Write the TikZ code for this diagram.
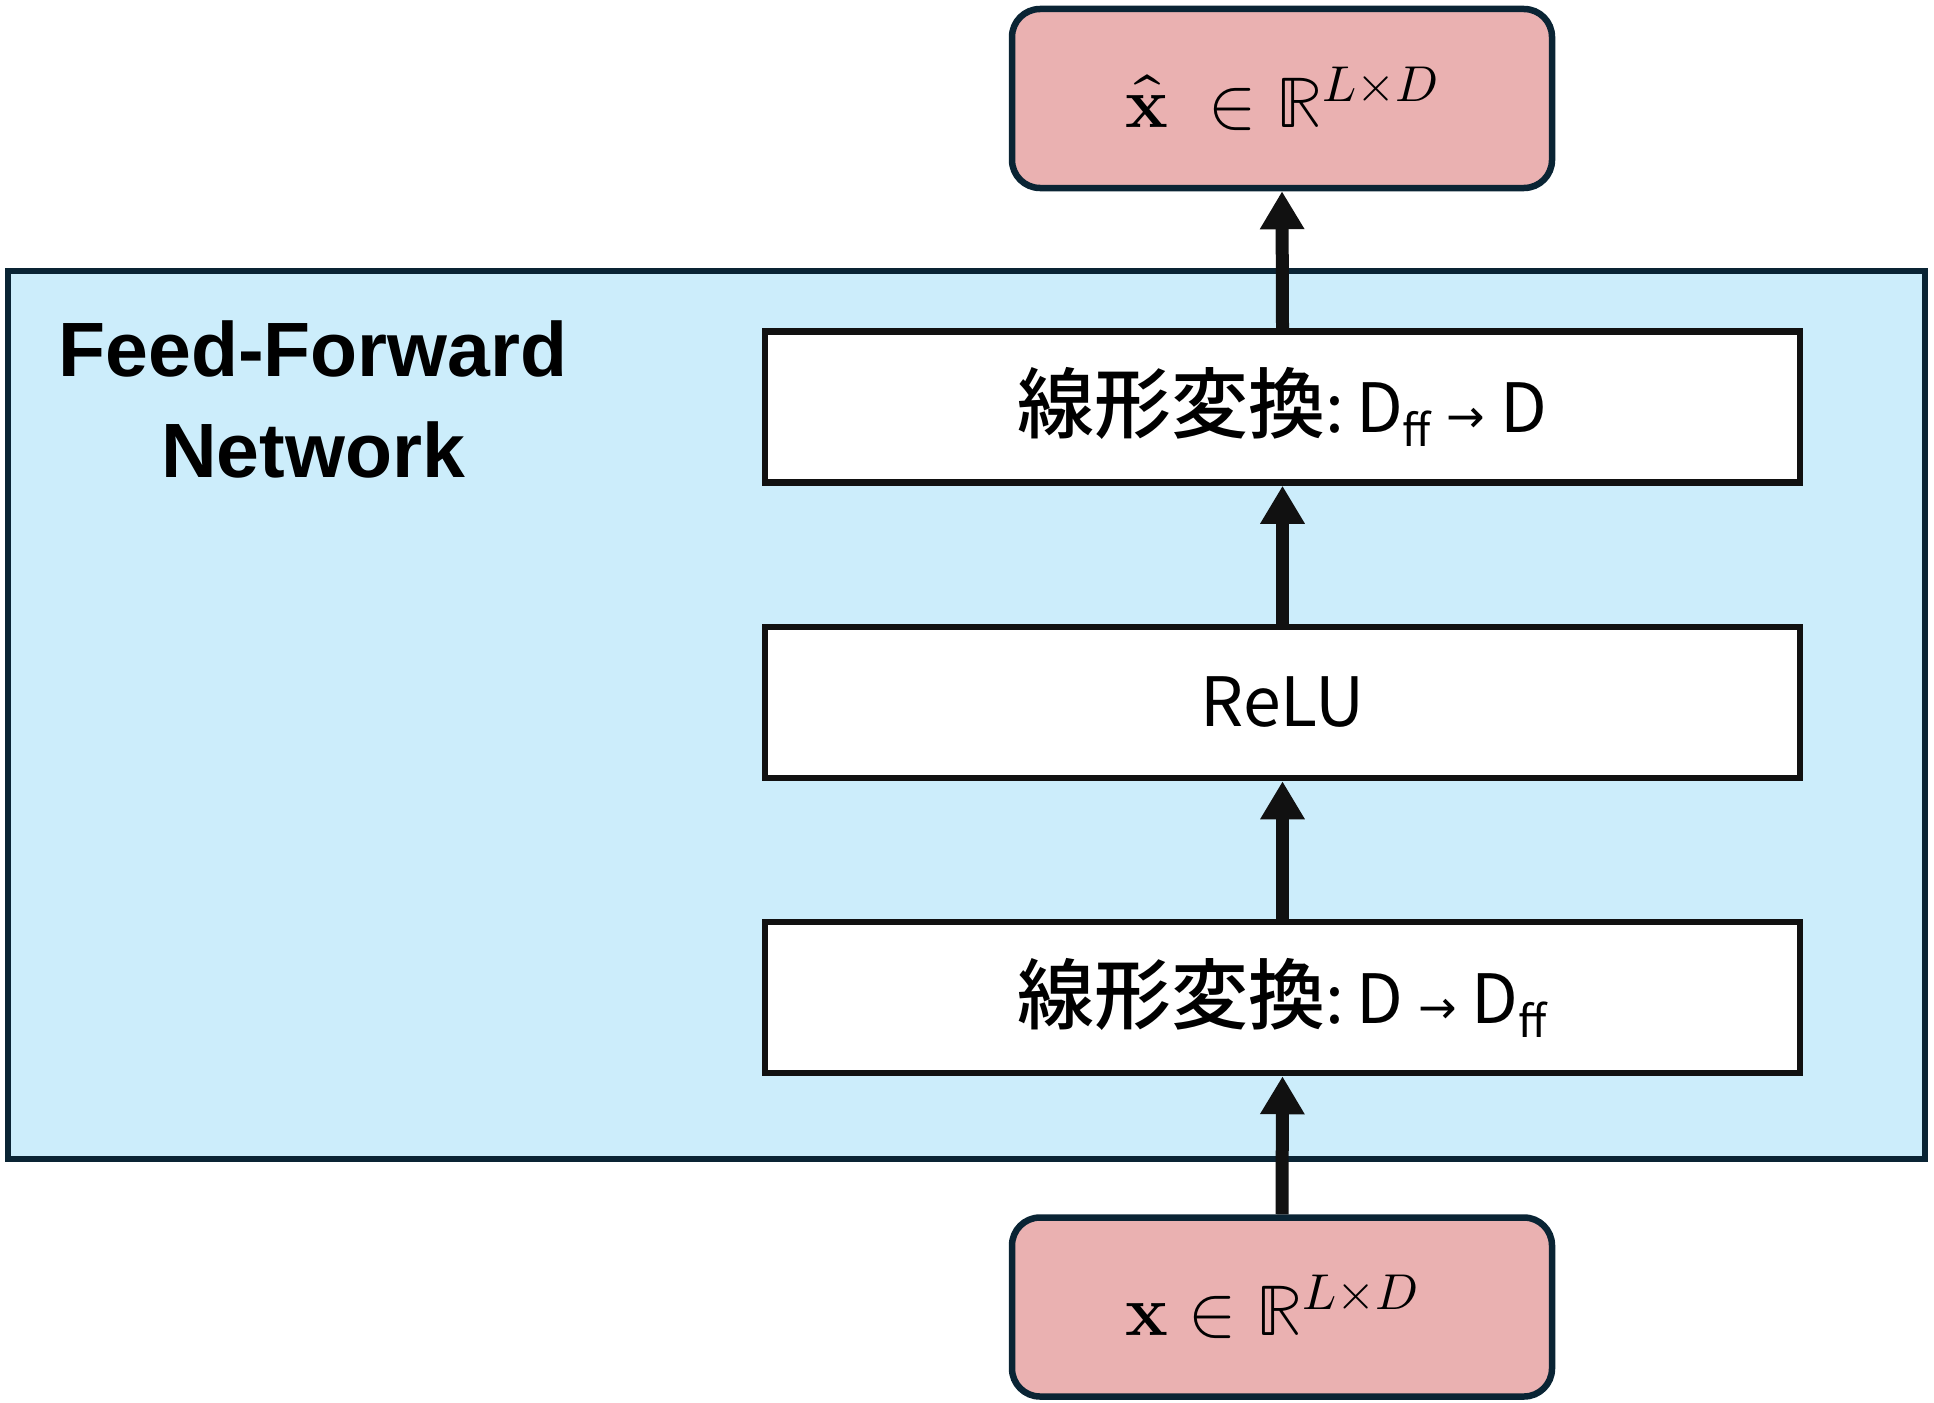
\documentclass[tikz,border=0pt]{standalone}
\usepackage{fontspec}
\usepackage{unicode-math}
\setmathfont{Latin Modern Math}
\newfontfamily\jpfont{Noto Sans CJK JP}
\newfontfamily\jpmedfont{Noto Sans CJK JP Medium}
\newfontfamily\hvfont{Liberation Sans}
\newfontfamily\djfont{DejaVu Sans}
\usetikzlibrary{arrows.meta}
\definecolor{pinkfill}{HTML}{EAB1B1}
\definecolor{navy}{HTML}{0A2434}
\definecolor{bluefill}{HTML}{CCEDFB}
\definecolor{ink}{HTML}{111111}
\newcommand{\ffsub}{{\fontsize{44}{44}\selectfont\raisebox{-14pt}{ff}}}
\newcommand{\rarrow}{{\djfont\fontsize{46}{46}\selectfont →}}
\newcommand{\kanji}{{\jpmedfont\fontsize{77}{80}\selectfont 線形変換}}
\begin{document}
\begin{tikzpicture}[x=1pt,y=-1pt,
  panel/.style={draw=navy,line width=6.5pt,fill=bluefill,inner sep=0pt},
  layerbox/.style={draw=ink,line width=6.5pt,fill=white,inner sep=0pt,
    minimum width=1035pt,minimum height=151pt,font=\jpfont\fontsize{68}{72}\selectfont},
  iobox/.style={draw=navy,line width=6.5pt,fill=pinkfill,rounded corners=28pt,inner sep=0pt,
    minimum width=540pt,minimum height=179pt,font=\fontsize{72}{76}\selectfont},
  flow/.style={draw=ink,line width=13pt,-{Triangle[width=42pt,length=38pt]}}]
\useasboundingbox (0,0) rectangle (1934,1402);
\node[panel,minimum width=1917pt,minimum height=888pt] (panel) at (966.5,715) {};
\node[font=\hvfont\bfseries\fontsize{77}{101}\selectfont,align=center,anchor=base] (title) at (313,477) {Feed-Forward\\Network};
\node[layerbox] (lin2) at (1282.5,407) {\kanji:\,D\ffsub\ \rarrow\ D};
\node[layerbox] (relu) at (1282.5,702.5) {ReLU};
\node[layerbox] (lin1) at (1282.5,997.5) {\kanji:\,D\ \rarrow\ D\ffsub};
\node[iobox] (out) at (1282,98.5) {$\hat{\mathbf{x}}\;\in\mathbb{R}^{L\times D}$};
\node[iobox] (in) at (1282,1307) {\hspace*{-20pt}$\mathbf{x}\in\mathbb{R}^{L\times D}$};
\draw[flow] (in.north) -- (lin1.south);
\draw[flow] (lin1.north) -- (relu.south);
\draw[flow] (relu.north) -- (lin2.south);
\draw[flow] (lin2.north) -- (out.south);
\end{tikzpicture}
\end{document}
